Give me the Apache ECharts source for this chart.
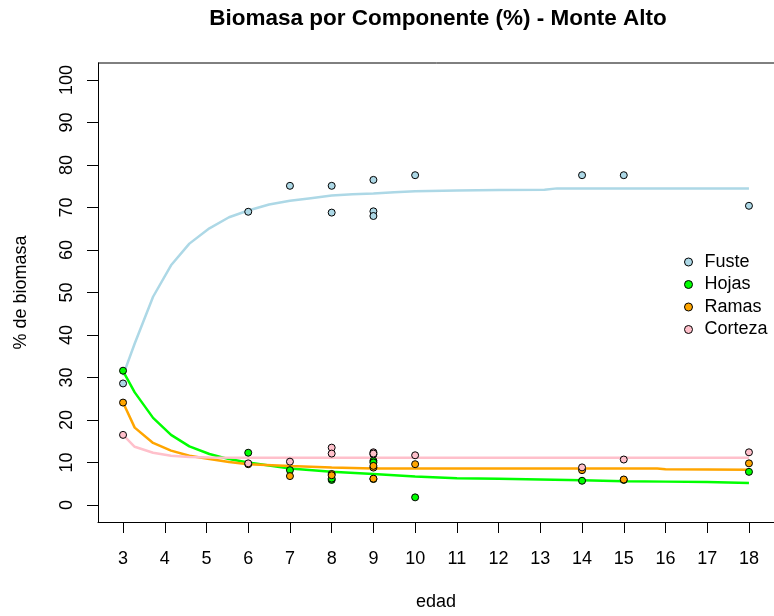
<!DOCTYPE html>
<html>
<head>
<meta charset="utf-8">
<script src="https://cdn.jsdelivr.net/npm/echarts@6/dist/echarts.min.js"></script>
<style>html,body{margin:0;padding:0;background:#fff;}#c{width:774px;height:616px;}</style>
</head>
<body>
<div id="c"></div>
<script>
// ---- data ----
var xTicks = [3,4,5,6,7,8,9,10,11,12,13,14,15,16,17,18];
var yTicks = [0,10,20,30,40,50,60,70,80,90,100];
var seriesNames = ['Fuste','Hojas','Ramas','Corteza'];
var seriesColors = ['#ADD8E6','#00FF00','#FFA500','#FFC0CB'];

// observed points: [edad, % biomasa]
var fustePts = [[3,28.6],[6,69.0],[7,75.1],[8,75.1],[8,68.8],[9,76.5],[9,69.1],[9,68.0],[10,77.6],[14,77.6],[15,77.6],[18,70.4]];
var hojasPts = [[3,31.6],[6,12.3],[7,8.2],[8,5.9],[8,6.2],[9,10.4],[9,10.0],[9,6.1],[10,1.8],[14,5.7],[15,5.9],[18,7.8]];
var ramasPts = [[3,24.1],[6,9.6],[7,6.8],[8,7.3],[8,7.0],[9,6.2],[9,8.8],[9,9.2],[10,9.6],[14,8.2],[15,6.0],[18,9.8]];
var cortezaPts = [[3,16.5],[6,9.8],[7,10.2],[8,13.5],[8,12.1],[9,11.9],[9,12.4],[9,12.1],[10,11.7],[14,8.85],[15,10.7],[18,12.4]];

// fitted curves: [edad, % biomasa]
var fusteFit = [[3,30.5],[3.28,38.0],[3.72,49.0],[4.15,56.4],[4.59,61.5],[5.07,65.1],[5.54,67.7],[6,69.3],[6.5,70.7],[7,71.6],[7.5,72.2],[8,72.8],[8.5,73.1],[9,73.3],[9.5,73.6],[10,73.8],[11,74.0],[12,74.1],[13.1,74.2],[13.4,74.5],[18,74.5]];
var hojasFit = [[3,31.5],[3.28,26.5],[3.72,20.5],[4.15,16.5],[4.59,13.8],[5.07,12.0],[5.54,10.8],[6,10.0],[7,8.6],[8,7.8],[9,7.3],[10,6.7],[11,6.3],[12,6.2],[13,6.0],[14,5.8],[15,5.6],[16,5.5],[17,5.4],[18,5.2]];
var ramasFit = [[3,24.1],[3.28,18.2],[3.72,14.6],[4.15,12.8],[4.59,11.6],[5.07,10.8],[5.54,10.1],[6,9.6],[7,9.2],[8,8.85],[9,8.6],[10,8.6],[12,8.6],[14,8.6],[15.8,8.6],[16,8.4],[18,8.3]];
var cortezaFit = [[3,16.5],[3.28,13.7],[3.72,12.3],[4.15,11.6],[4.59,11.3],[5.07,11.2],[6,11.1],[10,11.1],[14,11.1],[18,11.1]];

var ptsList = [fustePts, hojasPts, ramasPts, cortezaPts];
var fitList = [fusteFit, hojasFit, ramasFit, cortezaFit];

var FONT = 'Liberation Sans, Arial, sans-serif';
var series = [];
for (var i = 0; i < 4; i++) {
  series.push({
    name: seriesNames[i] + ' ajuste', type: 'line', data: fitList[i],
    showSymbol: false, symbol: 'none', smooth: false, silent: true,
    lineStyle: {color: seriesColors[i], width: 2.5}, z: 2
  });
}
for (var j = 0; j < 4; j++) {
  series.push({
    name: seriesNames[j], type: 'scatter', data: ptsList[j], symbol: 'circle', symbolSize: 7,
    itemStyle: {color: seriesColors[j], borderColor: '#000', borderWidth: 1, opacity: 1}, z: 3
  });
}

var chart = echarts.init(document.getElementById('c'), null, {renderer: 'canvas'});
chart.setOption({
  animation: false,
  backgroundColor: '#fff',
  title: {
    text: 'Biomasa por Componente (%) - Monte Alto', left: 433, top: 2, textAlign: 'center',
    textStyle: {fontFamily: FONT, fontSize: 22.5, fontWeight: 'bold', color: '#000'}
  },
  legend: {
    orient: 'vertical', left: 679, top: 248, itemWidth: 8, itemHeight: 8, itemGap: 4.5,
    icon: 'circle',
    data: seriesNames.map(function (n, k) {
      return {name: n, icon: 'circle', itemStyle: {color: seriesColors[k], borderColor: '#000', borderWidth: 1}};
    }),
    textStyle: {fontFamily: FONT, fontSize: 18, color: '#000', padding: [0, 0, 0, 7]},
    selectedMode: false
  },
  grid: {left: 98, top: 63, width: 680, height: 459, containLabel: false},
  xAxis: {
    type: 'value', min: 2.4, max: 18.6,
    name: 'edad', nameLocation: 'middle', nameGap: 71,
    nameTextStyle: {fontFamily: FONT, fontSize: 18, color: '#000'},
    axisLine: {show: true, onZero: false, lineStyle: {color: '#000', width: 1}},
    axisTick: {show: true, length: 11, lineStyle: {color: '#000'}, customValues: xTicks},
    axisLabel: {fontFamily: FONT, fontSize: 18, color: '#000', margin: 28, customValues: xTicks},
    splitLine: {show: false}
  },
  yAxis: {
    type: 'value', min: -4, max: 104,
    name: '% de biomasa', nameLocation: 'middle', nameGap: 68, nameRotate: 90,
    nameTextStyle: {fontFamily: FONT, fontSize: 18, color: '#000'},
    axisLine: {show: true, onZero: false, lineStyle: {color: '#000', width: 1}},
    axisTick: {show: true, length: 11, lineStyle: {color: '#000'}, customValues: yTicks},
    axisLabel: {fontFamily: FONT, fontSize: 18, color: '#000', margin: 22, rotate: 90, customValues: yTicks},
    splitLine: {show: false}
  },
  series: series
});
// top border of the plot box
chart.setOption({
  graphic: [{
    type: 'line', silent: true,
    shape: {x1: 98, y1: 63, x2: 778, y2: 63},
    style: {stroke: '#000', lineWidth: 1}
  }]
});
</script>
</body>
</html>
